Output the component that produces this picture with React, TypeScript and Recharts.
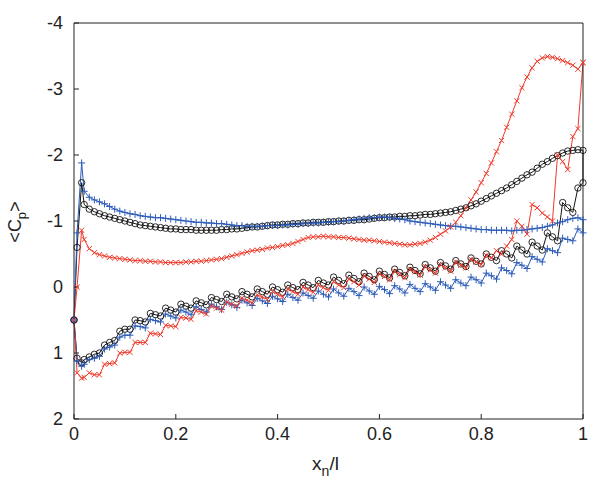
import { Label, Line, LineChart, XAxis, YAxis } from "recharts"

// chordwise stations x_n/l (shared by both surfaces)
const xStations = [
  0, 0.006, 0.015, 0.02, 0.03, 0.04, 0.05, 0.06, 0.07, 0.08, 0.09, 0.1,
  0.11, 0.12, 0.13, 0.14, 0.15, 0.16, 0.17, 0.18, 0.19, 0.2,
  0.21, 0.22, 0.23, 0.24, 0.25, 0.26, 0.27, 0.28, 0.29, 0.3,
  0.31, 0.32, 0.33, 0.34, 0.35, 0.36, 0.37, 0.38, 0.39, 0.4,
  0.41, 0.42, 0.43, 0.44, 0.45, 0.46, 0.47, 0.48, 0.49, 0.5,
  0.51, 0.52, 0.53, 0.54, 0.55, 0.56, 0.57, 0.58, 0.59, 0.6,
  0.61, 0.62, 0.63, 0.64, 0.65, 0.66, 0.67, 0.68, 0.69, 0.7,
  0.71, 0.72, 0.73, 0.74, 0.75, 0.76, 0.77, 0.78, 0.79, 0.8,
  0.81, 0.82, 0.83, 0.84, 0.85, 0.86, 0.87, 0.88, 0.89, 0.9,
  0.91, 0.92, 0.93, 0.94, 0.95, 0.96, 0.97, 0.98, 0.99, 1,
]

// mean Cp, black run (circles)
const blackUpper = [
  0.5, -0.6, -1.58, -1.25, -1.18, -1.14, -1.11, -1.08, -1.06, -1.04, -1.02, -1.0,
  -0.98, -0.96, -0.94, -0.93, -0.92, -0.91, -0.9, -0.89, -0.88, -0.88,
  -0.87, -0.87, -0.87, -0.86, -0.86, -0.86, -0.86, -0.86, -0.87, -0.87,
  -0.88, -0.88, -0.89, -0.9, -0.91, -0.91, -0.92, -0.93, -0.94, -0.94,
  -0.95, -0.95, -0.96, -0.96, -0.97, -0.97, -0.98, -0.98, -0.98, -0.99,
  -0.99, -1.0, -1.0, -1.01, -1.01, -1.02, -1.02, -1.03, -1.04, -1.05,
  -1.05, -1.06, -1.06, -1.07, -1.07, -1.08, -1.08, -1.09, -1.1, -1.1,
  -1.11, -1.12, -1.13, -1.14, -1.16, -1.18, -1.2, -1.23, -1.26, -1.3,
  -1.34, -1.38, -1.42, -1.46, -1.5, -1.55, -1.6, -1.65, -1.7, -1.74,
  -1.8, -1.86, -1.9, -1.95, -1.99, -2.03, -2.06, -2.07, -2.08, -2.07,
]
const blackLower = [
  0.5, 1.08, 1.15, 1.1, 1.06, 1.02, 1.0, 0.88, 0.84, 0.81, 0.67, 0.64,
  0.64, 0.5, 0.51, 0.53, 0.4, 0.42, 0.44, 0.32, 0.35, 0.38,
  0.26, 0.29, 0.32, 0.21, 0.24, 0.27, 0.16, 0.19, 0.22, 0.11,
  0.15, 0.18, 0.07, 0.11, 0.15, 0.03, 0.07, 0.11, 0.0, 0.04,
  0.08, -0.03, 0.01, 0.04, -0.07, -0.03, 0.01, -0.1, -0.06, -0.03,
  -0.15, -0.1, -0.05, -0.18, -0.13, -0.08, -0.21, -0.16, -0.11, -0.24,
  -0.19, -0.14, -0.27, -0.22, -0.17, -0.3, -0.25, -0.2, -0.34, -0.29,
  -0.24, -0.37, -0.32, -0.27, -0.4, -0.35, -0.31, -0.44, -0.39, -0.35,
  -0.5, -0.45, -0.4, -0.55, -0.5, -0.44, -0.62, -0.56, -0.5, -0.68,
  -0.62, -0.56, -0.82, -0.76, -0.7, -1.28, -1.2, -1.13, -1.5, -1.58,
]

// mean Cp, red run (crosses)
const redUpper = [
  0.5, 0.0, -0.86, -0.72, -0.58, -0.52, -0.49, -0.47, -0.45, -0.44, -0.43, -0.42,
  -0.41, -0.4, -0.4, -0.39, -0.39, -0.38, -0.38, -0.37, -0.37, -0.37,
  -0.37, -0.38, -0.38, -0.39, -0.39, -0.4, -0.41, -0.42, -0.43, -0.45,
  -0.47, -0.49, -0.51, -0.53, -0.55, -0.56, -0.57, -0.59, -0.6, -0.61,
  -0.63, -0.64, -0.66, -0.69, -0.72, -0.75, -0.76, -0.76, -0.77, -0.76,
  -0.76, -0.75, -0.75, -0.74, -0.73, -0.72, -0.71, -0.71, -0.7, -0.69,
  -0.68, -0.67, -0.66, -0.65, -0.64, -0.64, -0.65, -0.66, -0.68, -0.71,
  -0.75, -0.8, -0.85, -0.91, -0.98, -1.08, -1.2, -1.32, -1.44, -1.58,
  -1.72, -1.88, -2.05, -2.22, -2.42, -2.62, -2.82, -3.02, -3.18, -3.32,
  -3.42, -3.47, -3.49, -3.48, -3.46, -3.43, -3.4, -3.36, -3.3, -3.4,
]
const redLower = [
  0.5, 1.3, 1.38, 1.37, 1.3, 1.33, 1.33, 1.17, 1.16, 1.15, 1.0, 0.99,
  0.99, 0.84, 0.84, 0.84, 0.7, 0.71, 0.72, 0.58, 0.59, 0.6,
  0.46, 0.47, 0.49, 0.36, 0.38, 0.41, 0.29, 0.32, 0.35, 0.23,
  0.26, 0.29, 0.17, 0.2, 0.24, 0.12, 0.15, 0.19, 0.07, 0.11,
  0.15, 0.03, 0.07, 0.11, 0.0, 0.04, 0.08, -0.03, 0.01, 0.05,
  -0.08, -0.03, 0.01, -0.12, -0.08, -0.03, -0.17, -0.12, -0.07, -0.2,
  -0.16, -0.11, -0.24, -0.19, -0.14, -0.27, -0.23, -0.18, -0.31, -0.26,
  -0.21, -0.34, -0.29, -0.24, -0.38, -0.33, -0.29, -0.42, -0.38, -0.34,
  -0.48, -0.44, -0.55, -0.5, -0.62, -0.72, -1.0, -0.92, -0.8, -1.25,
  -1.2, -1.12, -1.06, -1.0, -2.0, -1.9, -1.78, -2.28, -2.4, -3.4,
]

// mean Cp, blue run (plus signs)
const blueUpper = [
  0.5, -0.82, -1.88, -1.45, -1.36, -1.32, -1.29, -1.26, -1.22, -1.18, -1.15, -1.13,
  -1.11, -1.1, -1.08, -1.07, -1.06, -1.05, -1.05, -1.04, -1.03, -1.02,
  -1.01, -1.0, -0.99, -0.98, -0.98, -0.97, -0.97, -0.96, -0.96, -0.95,
  -0.94, -0.93, -0.93, -0.92, -0.92, -0.92, -0.92, -0.93, -0.93, -0.93,
  -0.94, -0.94, -0.95, -0.95, -0.96, -0.96, -0.97, -0.97, -0.98, -0.98,
  -0.99, -0.99, -1.0, -1.01, -1.02, -1.03, -1.04, -1.05, -1.05, -1.06,
  -1.06, -1.05, -1.04, -1.03, -1.02, -1.0, -0.99, -0.98, -0.97, -0.96,
  -0.95, -0.94, -0.93, -0.92, -0.92, -0.91, -0.9, -0.89, -0.88, -0.87,
  -0.87, -0.86, -0.86, -0.86, -0.86, -0.85, -0.86, -0.86, -0.87, -0.88,
  -0.89, -0.9, -0.92, -0.94, -0.97, -0.99, -1.02, -1.04, -1.05, -1.02,
]
const blueLower = [
  0.5, 1.12, 1.2, 1.17, 1.1, 1.08, 1.05, 0.94, 0.91, 0.88, 0.76, 0.73,
  0.73, 0.59, 0.6, 0.62, 0.49, 0.51, 0.53, 0.41, 0.44, 0.47,
  0.35, 0.38, 0.42, 0.3, 0.34, 0.38, 0.26, 0.3, 0.34, 0.23,
  0.27, 0.31, 0.2, 0.24, 0.28, 0.17, 0.21, 0.25, 0.14, 0.18,
  0.22, 0.11, 0.16, 0.2, 0.09, 0.13, 0.17, 0.06, 0.11, 0.15,
  0.03, 0.09, 0.14, 0.02, 0.07, 0.13, 0.0, 0.06, 0.11, -0.01,
  0.04, 0.1, -0.02, 0.03, 0.09, -0.04, 0.02, 0.07, -0.05, 0.0,
  0.05, -0.08, -0.03, 0.02, -0.11, -0.06, -0.02, -0.15, -0.11, -0.06,
  -0.21, -0.17, -0.12, -0.29, -0.25, -0.2, -0.37, -0.33, -0.28, -0.46,
  -0.42, -0.38, -0.58, -0.55, -0.52, -0.74, -0.72, -0.7, -0.88, -0.82,
]

const xTicks = [0, 0.2, 0.4, 0.6, 0.8, 1]
const yTicks = [-4, -3, -2, -1, 0, 1, 2]

// upper surface LE -> TE, then lower surface TE -> LE, so each run is one closed loop
const surfaceLoop = (upper: number[], lower: number[]) => [
  ...xStations.map((x, i) => ({ x, cp: upper[i] })),
  ...xStations.map((x, i) => ({ x, cp: lower[i] })).reverse(),
]

const blackRun = surfaceLoop(blackUpper, blackLower)
const redRun = surfaceLoop(redUpper, redLower)
const blueRun = surfaceLoop(blueUpper, blueLower)

const BLACK = "#141414"
const RED = "#f03a2a"
const BLUE = "#2c5cb8"
const FONT = "'Liberation Sans', Arial, Helvetica, sans-serif"

const circleMarker = (props: any) => {
  const { cx, cy, index } = props
  if (cx == null || cy == null) return <g key={index} />
  return <circle key={index} cx={cx} cy={cy} r={3.2} fill="none" stroke={BLACK} strokeWidth={0.9} />
}

const plusMarker = (props: any) => {
  const { cx, cy, index } = props
  if (cx == null || cy == null) return <g key={index} />
  const s = 3.5
  return (
    <path
      key={index}
      d={`M${cx - s},${cy}H${cx + s}M${cx},${cy - s}V${cy + s}`}
      stroke={BLUE}
      strokeWidth={1}
      fill="none"
    />
  )
}

const crossMarker = (props: any) => {
  const { cx, cy, index } = props
  if (cx == null || cy == null) return <g key={index} />
  const s = 2.6
  return (
    <path
      key={index}
      d={`M${cx - s},${cy - s}L${cx + s},${cy + s}M${cx - s},${cy + s}L${cx + s},${cy - s}`}
      stroke={RED}
      strokeWidth={1}
      fill="none"
    />
  )
}

const tickStyle = { fontSize: 18, fontFamily: FONT, fill: "#222" }
const axisStroke = { stroke: "#222", strokeWidth: 1 }

export default function App() {
  return (
    <div style={{ position: "absolute", left: 0, top: 0, background: "#fff" }}>
      <LineChart width={598} height={483} margin={{ top: 22, right: 14, bottom: 24, left: 14 }}>
        <XAxis
          xAxisId="bottom"
          type="number"
          dataKey="x"
          domain={[0, 1]}
          ticks={xTicks}
          interval={0}
          height={40}
          tickSize={-5}
          tickMargin={13}
          tick={tickStyle}
          axisLine={axisStroke}
          tickLine={axisStroke}
        >
          <Label
            content={(props: any) => {
              const vb = props.viewBox || { x: 74, y: 419, width: 509 }
              return (
                <text
                  x={vb.x + vb.width / 2 - 3}
                  y={vb.y + 51}
                  textAnchor="middle"
                  fontSize={19}
                  fontFamily={FONT}
                  fill="#222"
                >
                  x
                  <tspan dy={6} fontSize={14}>
                    n
                  </tspan>
                  <tspan dy={-6}>/l</tspan>
                </text>
              )
            }}
          />
        </XAxis>
        <XAxis
          xAxisId="top"
          orientation="top"
          type="number"
          domain={[0, 1]}
          ticks={xTicks}
          interval={0}
          height={1}
          tickSize={-5}
          tick={false}
          axisLine={axisStroke}
          tickLine={axisStroke}
        />
        <YAxis
          yAxisId="left"
          type="number"
          domain={[-4, 2]}
          reversed
          ticks={yTicks}
          interval={0}
          width={60}
          tickSize={-5}
          tickMargin={16}
          tick={tickStyle}
          axisLine={axisStroke}
          tickLine={axisStroke}
        >
          <Label
            content={() => (
              <text
                transform="translate(21,222) rotate(-90)"
                textAnchor="middle"
                fontSize={18}
                fontFamily={FONT}
                fill="#222"
              >
                &lt;C
                <tspan dy={5} fontSize={13}>
                  p
                </tspan>
                <tspan dy={-5}>&gt;</tspan>
              </text>
            )}
          />
        </YAxis>
        <YAxis
          yAxisId="right"
          orientation="right"
          type="number"
          domain={[-4, 2]}
          reversed
          ticks={yTicks}
          interval={0}
          width={1}
          tickSize={-5}
          tick={false}
          axisLine={axisStroke}
          tickLine={axisStroke}
        />
        <Line
          xAxisId="bottom"
          yAxisId="left"
          data={blackRun}
          dataKey="cp"
          type="linear"
          stroke={BLACK}
          strokeWidth={1}
          dot={circleMarker}
          activeDot={false}
          isAnimationActive={false}
        />
        <Line
          xAxisId="bottom"
          yAxisId="left"
          data={blueRun}
          dataKey="cp"
          type="linear"
          stroke={BLUE}
          strokeWidth={1}
          dot={plusMarker}
          activeDot={false}
          isAnimationActive={false}
        />
        <Line
          xAxisId="bottom"
          yAxisId="left"
          data={redRun}
          dataKey="cp"
          type="linear"
          stroke={RED}
          strokeWidth={1}
          dot={crossMarker}
          activeDot={false}
          isAnimationActive={false}
        />
      </LineChart>
    </div>
  )
}
